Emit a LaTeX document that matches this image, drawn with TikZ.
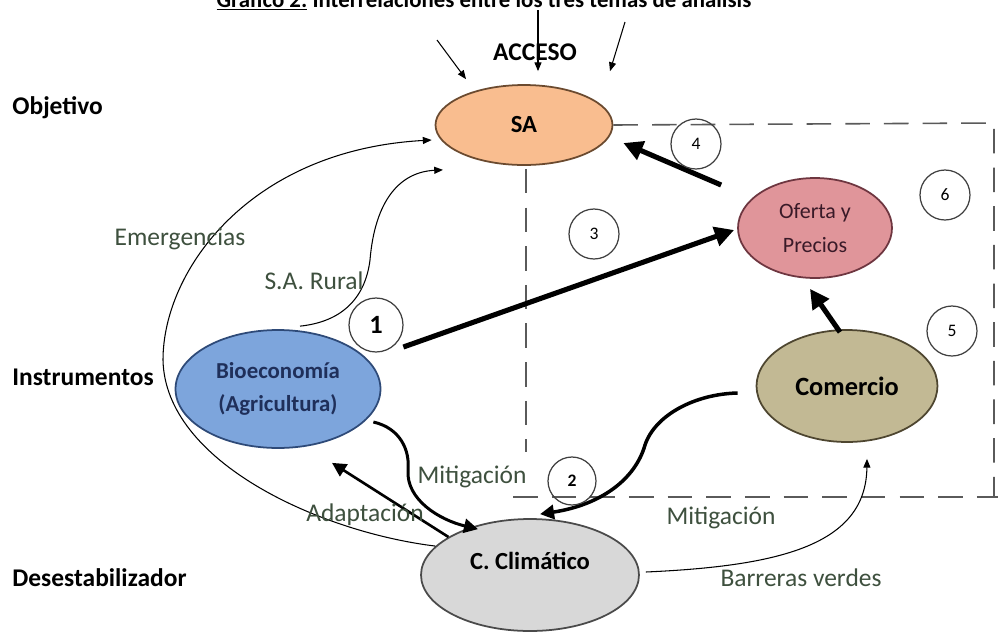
\documentclass[tikz,border=0pt]{standalone}
\usepackage{fontspec}
\setmainfont{Carlito}
\usetikzlibrary{arrows.meta,shapes.geometric,calc}
\definecolor{saF}{HTML}{F9BD8F}
\definecolor{saD}{HTML}{6B4A2F}
\definecolor{bioF}{HTML}{7DA5DC}
\definecolor{bioD}{HTML}{2E4A78}
\definecolor{bioT}{HTML}{1F2F5A}
\definecolor{ofeF}{HTML}{E0959A}
\definecolor{ofeD}{HTML}{6E3640}
\definecolor{ofeT}{HTML}{3A1A28}
\definecolor{comF}{HTML}{C2B994}
\definecolor{comD}{HTML}{4E4630}
\definecolor{cliF}{HTML}{D8D8D8}
\definecolor{cliD}{HTML}{4A4A4A}
\definecolor{lbl}{HTML}{3E503E}
\definecolor{dshc}{HTML}{5A5A5A}
\begin{document}
\begin{tikzpicture}[x=0.02cm,y=0.02cm,
  oval/.style={ellipse, draw, line width=1pt, inner sep=0pt, align=center},
  num/.style={circle, draw=black!75, line width=0.7pt, minimum size=1cm, inner sep=0pt, font=\fontsize{10}{12}\selectfont},
  big/.style={line width=2.9pt, -{Triangle[length=11pt,width=11pt]}},
  med/.style={line width=1.7pt, -{Triangle[length=8pt,width=8pt]}},
  thin/.style={line width=0.6pt, -{Triangle[length=5pt,width=4pt]}},
  dsh/.style={draw=dshc, line width=0.9pt, dash pattern=on 14pt off 8pt},
  lab/.style={text=lbl, font=\fontsize{14.5}{17}\selectfont},
  side/.style={font=\bfseries\fontsize{14.5}{17}\selectfont, anchor=west, inner sep=0pt}]
\useasboundingbox (0,0) rectangle (998,-633);
\fill[white] (0,0) rectangle (998,-633);

% title (clipped at top, as in the reference)
\node[anchor=base, font=\bfseries\fontsize{13}{15}\selectfont] (title) at (484,-7) {\underline{Gráfico 2:} Interrelaciones entre los tres temas de análisis};

% ellipses
\node[oval, fill=saF, draw=saD, minimum width=3.54cm, minimum height=1.6cm, font=\bfseries\fontsize{14}{16}\selectfont] (sa) at (524,-125) {SA};
\node[oval, fill=bioF, draw=bioD, minimum width=4.1cm, minimum height=2.36cm, text=bioT, font=\bfseries\fontsize{13}{19}\selectfont] (bio) at (278,-389) {Bioeconomía\\(Agricultura)};
\node[oval, fill=ofeF, draw=ofeD, minimum width=3.08cm, minimum height=2cm, text=ofeT, font=\fontsize{12.5}{19}\selectfont] (ofe) at (815,-228) {Oferta y\\Precios};
\node[oval, fill=comF, draw=comD, minimum width=3.62cm, minimum height=2.24cm, font=\bfseries\fontsize{15}{18}\selectfont] (com) at (847,-386) {Comercio};
\node[oval, fill=cliF, draw=cliD, minimum width=4.36cm, minimum height=2.24cm, font=\bfseries\fontsize{14}{17}\selectfont] (cli) at (530,-575) {\raisebox{3pt}[0pt][0pt]{C. Climático}};

% side labels
\node[side] (obj) at (12,-108) {Objetivo};
\node[side] (ins) at (12,-377) {Instrumentos};
\node[side] (des) at (12,-578) {Desestabilizador};

% dashed region
\draw[dsh] (sa.east) -- (994,-123) -- (994,-497);
\draw[dsh] (513,-497) -- (998,-497);
\draw[dsh] (sa.south) ++(2,-3) -- (526,-452);

% ACCESO arrows
\coordinate (t1) at (437,-40);
\coordinate (t2) at (538,-10);
\coordinate (t3) at (625,-22);
\draw[thin] (t1) -- ([shift={(-58,5)}]sa.north);
\draw[thin] (t2) -- ([shift={(14,13)}]sa.north);
\draw[thin] (t3) -- ([shift={(86,13)}]sa.north);
\node[font=\bfseries\fontsize{14.5}{17}\selectfont] (acc) at (535,-52) {ACCESO};

% thick arrows
\draw[big] ([shift={(22,42)}]bio.east) -- ([shift={(-3,-2)}]ofe.west);
\draw[big] ([shift={(-16,43)}]ofe.west) -- ([shift={(10,-18)}]sa.east);
\draw[big] ([shift={(-7,-3)}]com.north) -- ([shift={(-5,-10)}]ofe.south);

% curved arrows
\draw[med] ([shift={(-8,-33)}]bio.east) .. controls (400,-428) and (410,-450) .. (408,-470) .. controls (406,-500) and (440,-520) .. ([shift={(-52,-11)}]cli.north);
\draw[med, line width=2pt] ([shift={(-18,-7)}]com.west) .. controls (695,-394) and (655,-415) .. (645,-445) .. controls (635,-480) and (600,-505) .. ([shift={(10,4)}]cli.north);
\draw[med, line width=1.5pt] (cli.155) -- ([shift={(54,-14)}]bio.south);
\draw[thin] (cli.163) .. controls (320,-532) and (165,-462) .. (163,-360) .. controls (163,-270) and (250,-150) .. ([shift={(-3,-15)}]sa.west);
\draw[thin] ([shift={(22,3)}]bio.north) .. controls (340,-322) and (365,-300) .. (370,-260) .. controls (375,-200) and (400,-172) .. ([shift={(-81,-4)}]sa.south);
\draw[thin] ([shift={(6,3)}]cli.east) .. controls (780,-566) and (866,-545) .. ([shift={(20,-16)}]com.south);

% connector labels
\node[lab] (lemer) at (180,-239) {Emergencias};
\node[lab] (lsar) at (314,-281) {S.A. Rural};
\node[lab] (lmit1) at (472,-477) {Mitigación};
\node[lab] (lada) at (365,-515) {Adaptación};
\node[lab] (lmit2) at (721,-518) {Mitigación};
\node[lab] (lbar) at (801,-578) {Barreras verdes};

% numbered circles
\node[num, minimum size=1.08cm, font=\bfseries\fontsize{15}{17}\selectfont] (n1) at (376,-325) {1};
\node[num, minimum size=0.96cm, font=\bfseries\fontsize{10}{12}\selectfont] (n2) at (572,-481) {2};
\node[num] (n3) at (594,-234) {3};
\node[num] (n4) at (696,-144) {4};
\node[num] (n5) at (952,-331) {5};
\node[num] (n6) at (945,-195) {6};
\end{tikzpicture}
\end{document}
